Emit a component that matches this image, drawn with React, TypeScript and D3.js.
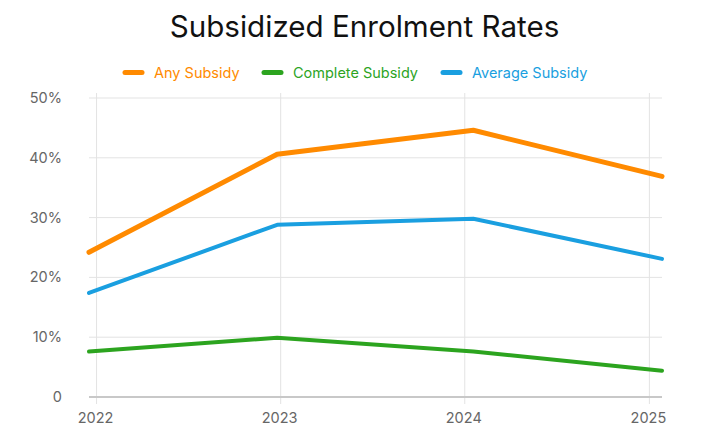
import React, { useEffect, useRef } from 'react';
import * as d3 from 'd3';

// observation dates (points sit a little off the year boundaries)
const dates = ['2021-12-17', '2022-12-25', '2024-01-18', '2025-01-26'];
const anySubsidy = [24.2, 40.6, 44.6, 36.9];
const completeSubsidy = [7.6, 9.9, 7.6, 4.4];
const averageSubsidy = [17.4, 28.8, 29.8, 23.1];
const yTicks = [0, 10, 20, 30, 40, 50];
const xTickYears = [2022, 2023, 2024, 2025];

const seriesNames = ['Any Subsidy', 'Complete Subsidy', 'Average Subsidy'];
const seriesColors = ['#ff8a00', '#2ca41f', '#1a9fe0'];
const seriesWidths = [5, 4, 4];

function App() {
  const svgRef = useRef<SVGSVGElement>(null);
  const width = 720;
  const height = 440;

  useEffect(() => {
    if (!svgRef.current) return;
    const svg = d3.select(svgRef.current);
    svg.selectAll('*').remove();

    const margin = { top: 98, right: 58, bottom: 43, left: 89 };
    const innerWidth = width - margin.left - margin.right;
    const innerHeight = height - margin.top - margin.bottom;
    const font = 'Inter, "Noto Sans", sans-serif';

    const parse = d3.timeParse('%Y-%m-%d');
    const xDates = dates.map(d => parse(d) as Date);

    const x = d3.scaleTime()
      .domain([xDates[0], xDates[xDates.length - 1]])
      .range([0, innerWidth]);
    const y = d3.scaleLinear().domain([0, 50]).range([innerHeight, 0]);

    const g = svg.append('g')
      .attr('transform', `translate(${margin.left},${margin.top})`);

    // horizontal grid
    g.selectAll('.hgrid')
      .data(yTicks.filter(t => t > 0))
      .enter().append('line')
      .attr('x1', 0)
      .attr('x2', innerWidth)
      .attr('y1', d => y(d))
      .attr('y2', d => y(d))
      .attr('stroke', '#e3e3e3')
      .attr('stroke-width', 1);

    // vertical grid at year ticks
    const tickDates = xTickYears.map(yr => new Date(yr, 0, 1));
    g.selectAll('.vgrid')
      .data(tickDates)
      .enter().append('line')
      .attr('x1', d => x(d))
      .attr('x2', d => x(d))
      .attr('y1', -5)
      .attr('y2', innerHeight + 7)
      .attr('stroke', '#e3e3e3')
      .attr('stroke-width', 1);

    // bottom axis line
    g.append('line')
      .attr('x1', 0)
      .attr('x2', innerWidth)
      .attr('y1', innerHeight)
      .attr('y2', innerHeight)
      .attr('stroke', '#c8c8c8')
      .attr('stroke-width', 2);

    // y labels
    g.selectAll('.ylabel')
      .data(yTicks)
      .enter().append('text')
      .attr('x', -27)
      .attr('y', d => y(d))
      .attr('dy', '0.35em')
      .attr('text-anchor', 'end')
      .style('font-family', font)
      .style('font-size', '14.5px')
      .style('fill', '#666')
      .text(d => (d === 0 ? '0' : `${d}%`));

    // x labels
    g.selectAll('.xlabel')
      .data(tickDates)
      .enter().append('text')
      .attr('x', d => x(d) - 1)
      .attr('y', innerHeight + 26)
      .attr('text-anchor', 'middle')
      .style('font-family', font)
      .style('font-size', '14.5px')
      .style('fill', '#666')
      .text(d => d3.timeFormat('%Y')(d));

    // lines
    const allSeries = [anySubsidy, completeSubsidy, averageSubsidy];
    const line = d3.line<number>()
      .x((_, i) => x(xDates[i]))
      .y(d => y(d));

    allSeries.forEach((values, i) => {
      g.append('path')
        .datum(values)
        .attr('d', line)
        .attr('fill', 'none')
        .attr('stroke', seriesColors[i])
        .attr('stroke-width', seriesWidths[i])
        .attr('stroke-linecap', 'round')
        .attr('stroke-linejoin', 'round');
    });

    // legend
    const legendY = 72.5;
    const legendX = [123, 262, 441];
    seriesNames.forEach((name, i) => {
      const lg = svg.append('g').attr('transform', `translate(${legendX[i]},${legendY})`);
      lg.append('line')
        .attr('x1', 2)
        .attr('x2', 19)
        .attr('y1', 0)
        .attr('y2', 0)
        .attr('stroke', seriesColors[i])
        .attr('stroke-width', 5)
        .attr('stroke-linecap', 'round');
      lg.append('text')
        .attr('x', 31)
        .attr('y', 0)
        .attr('dy', '0.35em')
        .style('font-family', font)
        .style('font-size', '14.5px')
        .style('fill', seriesColors[i])
        .text(name);
    });

    // title
    svg.append('text')
      .attr('x', 364.5)
      .attr('y', 37)
      .attr('text-anchor', 'middle')
      .style('font-family', font)
      .style('font-size', '29.6px')
      .style('fill', '#111')
      .text('Subsidized Enrolment Rates');
  }, []);

  return (
    <div style={{ position: 'absolute', left: 0, top: 0, background: '#fff' }}>
      <svg ref={svgRef} width={width} height={height} style={{ display: 'block' }}></svg>
    </div>
  );
}

export default App;
